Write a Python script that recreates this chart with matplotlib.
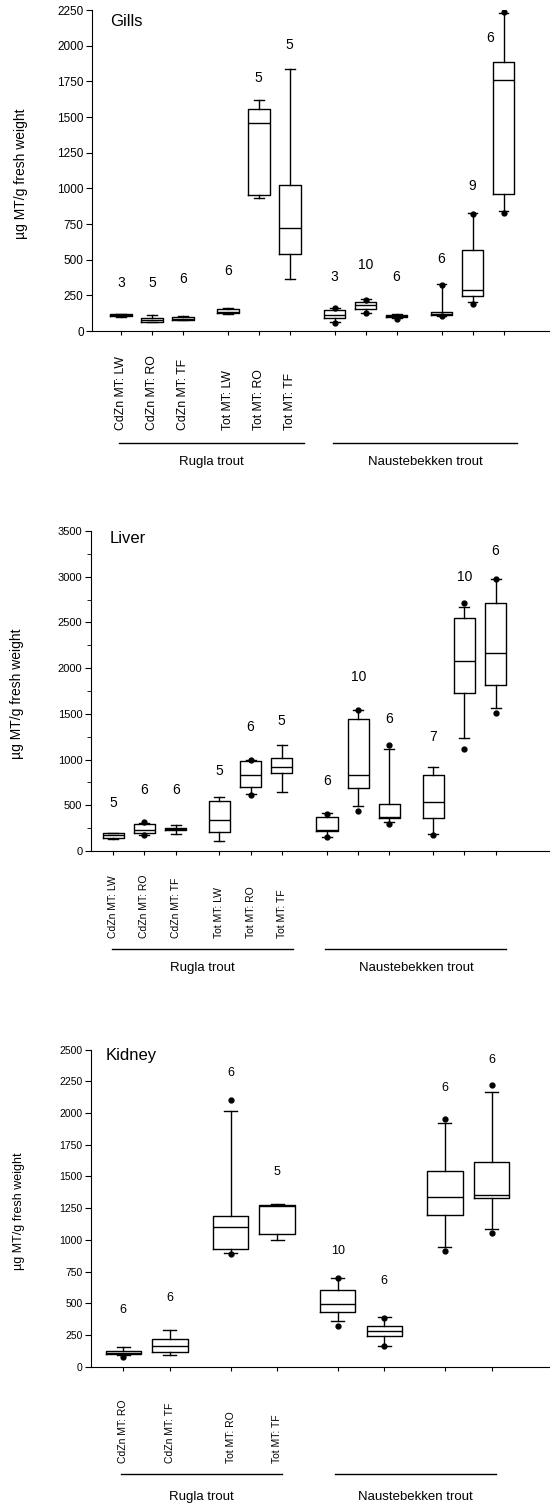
import matplotlib
matplotlib.use('Agg')
from matplotlib import pyplot as plt
from matplotlib.ticker import MultipleLocator
from matplotlib.transforms import blended_transform_factory

plt.rcParams['font.family'] = ['Liberation Sans', 'DejaVu Sans']

labels6 = ['CdZn MT: LW', 'CdZn MT: RO', 'CdZn MT: TF',
           'Tot MT: LW', 'Tot MT: RO', 'Tot MT: TF']
kidney_labels = ['CdZn MT: RO', 'CdZn MT: TF', 'Tot MT: RO', 'Tot MT: TF']
groups = ['Rugla trout', 'Naustebekken trout']
ylabel = 'µg MT/g fresh weight'

# Gills (ug MT/g fresh weight): Rugla x6, then Naustebekken x6
gills_whislo = [100, 62, 78, 122, 931, 366, 62, 125, 90, 105, 204, 841]
gills_q1 = [103, 66, 80, 123, 952, 540, 90, 151, 95, 110, 243, 964]
gills_med = [110, 75, 86, 135, 1460, 721, 110, 180, 105, 120, 290, 1761]
gills_q3 = [120, 90, 100, 155, 1559, 1026, 146, 204, 115, 135, 568, 1888]
gills_whishi = [122, 110, 102, 158, 1622, 1837, 160, 222, 118, 330, 830, 2230]
gills_fliers = [[], [], [], [], [], [], [55, 160], [125, 215], [85],
                [105, 320], [190, 820], [830, 2240]]
gills_n = [3, 5, 6, 6, 5, 5, 3, 10, 6, 6, 9, 6]

# Liver
liver_whislo = [128, 175, 182, 109, 620, 649, 157, 496, 314, 186, 1240, 1560]
liver_q1 = [140, 193, 225, 211, 696, 850, 222, 685, 357, 365, 1732, 1816]
liver_med = [175, 230, 240, 339, 831, 922, 230, 831, 370, 532, 2082, 2169]
liver_q3 = [193, 292, 255, 551, 988, 1021, 376, 1444, 514, 831, 2552, 2709]
liver_whishi = [193, 310, 284, 594, 995, 1159, 419, 1542, 1112, 922, 2672, 2975]
liver_fliers = [[], [170, 315], [], [], [615, 1000], [], [150, 400], [440, 1540],
                [300, 1165], [170], [1120, 2710], [1510, 2975]]
liver_n = [5, 6, 6, 5, 6, 5, 6, 10, 6, 7, 10, 6]

# Kidney: Rugla x4, Naustebekken x4
kidney_whislo = [90, 92, 894, 999, 360, 166, 946, 1083]
kidney_q1 = [100, 113, 928, 1046, 434, 242, 1196, 1328]
kidney_med = [110, 166, 1104, 1265, 494, 281, 1341, 1354]
kidney_q3 = [120, 216, 1191, 1275, 605, 323, 1543, 1617]
kidney_whishi = [158, 289, 2019, 1283, 697, 389, 1924, 2169]
kidney_fliers = [[80], [], [885, 2105], [], [320, 700], [160, 385], [915, 1950], [1055, 2220]]
kidney_n = [6, 6, 6, 5, 10, 6, 6, 6]

# layout: box positions, where the n labels sit
gills_pos = [1, 2, 3, 4.45, 5.45, 6.45, 7.9, 8.9, 9.9, 11.35, 12.35, 13.35]
liver_pos = [1, 2, 3, 4.4, 5.4, 6.4, 7.85, 8.85, 9.85, 11.25, 12.25, 13.25]
kidney_pos = [1, 2, 3.3, 4.3, 5.6, 6.6, 7.9, 8.9]
gills_n_y = [336, 336, 366, 424, 1775, 2007, 378, 463, 378, 505, 1020, 2051]
gills_n_dx = [0] * 11 + [-0.44]
liver_n_y = [521, 667, 667, 875, 1360, 1422, 766, 1907, 1444, 1243, 3001, 3281]
kidney_n_y = [447, 544, 2319, 1538, 915, 676, 2195, 2419]


def draw_panel(ax, pos, whislo, q1, med, q3, whishi, fliers, n, n_y, n_dx,
               ticklabels, title, title_xy, ymax, ystep, width, capw,
               xlim, lab_y, line_y, grp_y, line_ext, fs):
    stats = []
    for i in range(len(pos)):
        stats.append({'whislo': whislo[i], 'q1': q1[i], 'med': med[i],
                      'q3': q3[i], 'whishi': whishi[i], 'fliers': fliers[i]})
    lp = dict(color='black', linewidth=1)
    ax.bxp(stats, positions=pos, widths=width, capwidths=capw,
           boxprops=lp, medianprops=lp, whiskerprops=lp, capprops=lp,
           flierprops=dict(marker='o', markersize=3.5, markerfacecolor='black',
                           markeredgecolor='black'),
           manage_ticks=False)
    # sample sizes above each box
    for i in range(len(pos)):
        ax.text(pos[i] + n_dx[i], n_y[i], str(n[i]), ha='center', va='center',
                fontsize=fs['n'])

    ax.set_xlim(*xlim)
    ax.set_ylim(0, ymax)
    ax.spines['top'].set_visible(False)
    ax.spines['right'].set_visible(False)
    ax.yaxis.set_major_locator(MultipleLocator(ystep))
    ax.set_xticks(pos)
    ax.set_xticklabels([])
    ax.tick_params(axis='y', direction='out', length=4, pad=2, labelsize=fs['tick'])
    ax.tick_params(axis='x', direction='out', length=3)

    # category names (bottom aligned), group lines and group names
    trans = blended_transform_factory(ax.transData, ax.transAxes)
    for p, lab in zip(pos, ticklabels):
        ax.text(p, lab_y, lab, rotation=90, ha='center', va='bottom',
                fontsize=fs['xlab'], transform=trans)
    half = len(pos) // 2
    for g, sub in enumerate([pos[:half], pos[half:]]):
        x0, x1 = sub[0] - 0.05, sub[-1] + line_ext
        ax.plot([x0, x1], [line_y, line_y], color='black', lw=1,
                transform=trans, clip_on=False)
        ax.text((x0 + x1) / 2, grp_y, groups[g], ha='center', va='center',
                fontsize=fs['grp'], transform=trans)

    ax.text(title_xy[0], title_xy[1], title, transform=ax.transAxes,
            ha='left', va='center', fontsize=12)
    ax.set_ylabel(ylabel, fontsize=fs['ylab'])
    ax.yaxis.set_label_coords(fs['ylab_x'], 0.49)


fig = plt.figure(figsize=(5.5, 15.06), dpi=100)

ax1 = fig.add_axes([0.1673, 0.7802, 0.831, 0.2131])
draw_panel(ax1, gills_pos, gills_whislo, gills_q1, gills_med, gills_q3,
           gills_whishi, gills_fliers, gills_n, gills_n_y, gills_n_dx,
           labels6, 'Gills', (0.039, 0.966), 2250, 250, 0.7, 0.32,
           (0.07, 14.82), -0.308, -0.348, -0.407, 0.45,
           {'n': 10, 'tick': 8.5, 'xlab': 8.8, 'grp': 9.5, 'ylab': 10, 'ylab_x': -0.14})

ax2 = fig.add_axes([0.1649, 0.4349, 0.8331, 0.2125])
draw_panel(ax2, liver_pos, liver_whislo, liver_q1, liver_med, liver_q3,
           liver_whishi, liver_fliers, liver_n, liver_n_y, [0] * 12,
           labels6, 'Liver', (0.042, 0.978), 3500, 500, 0.68, 0.32,
           (0.276, 14.96), -0.273, -0.307, -0.367, 0.35,
           {'n': 10, 'tick': 8, 'xlab': 7.5, 'grp': 9.5, 'ylab': 10, 'ylab_x': -0.146})
ax2.yaxis.set_minor_locator(MultipleLocator(250))
ax2.tick_params(axis='y', which='minor', direction='out', length=3)

ax3 = fig.add_axes([0.1649, 0.0925, 0.8331, 0.2105])
draw_panel(ax3, kidney_pos, kidney_whislo, kidney_q1, kidney_med, kidney_q3,
           kidney_whishi, kidney_fliers, kidney_n, kidney_n_y, [0] * 8,
           kidney_labels, 'Kidney', (0.0335, 0.983), 2500, 250, 0.76, 0.28,
           (0.30, 10.13), -0.305, -0.339, -0.41, 0.1,
           {'n': 9, 'tick': 7.5, 'xlab': 7.5, 'grp': 9.5, 'ylab': 9, 'ylab_x': -0.143})

plt.savefig('out.png', dpi=100)
